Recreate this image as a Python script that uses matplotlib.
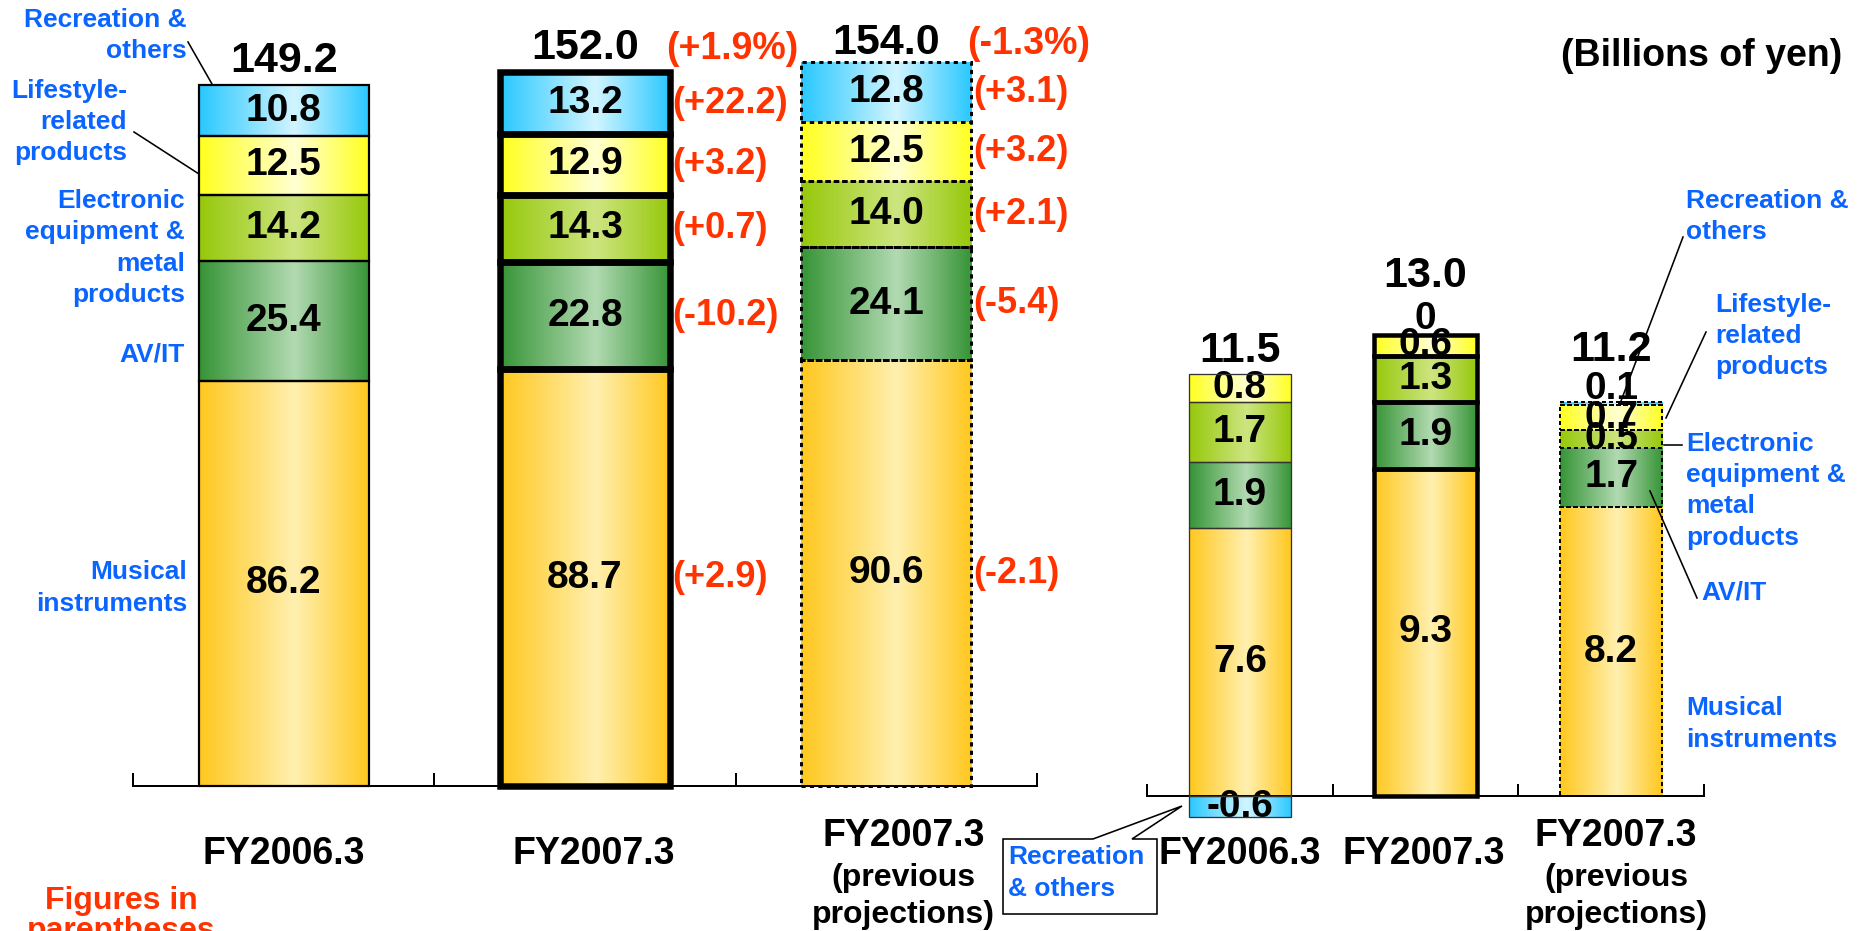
import numpy as np
import matplotlib
matplotlib.use("Agg")
import matplotlib.pyplot as plt
from matplotlib.colors import LinearSegmentedColormap
from matplotlib.patches import Polygon
from matplotlib.lines import Line2D
from matplotlib.transforms import Affine2D, blended_transform_factory

# ---------------- data ----------------
categories = ["FY2006.3", "FY2007.3", "FY2007.3\n(previous\nprojections)"]
segment_names = ["Musical instruments", "AV/IT", "Electronic equipment & metal products",
                 "Lifestyle-related products", "Recreation & others"]

# Net sales (billions of yen)
sales_musical = [86.2, 88.7, 90.6]
sales_avit = [25.4, 22.8, 24.1]
sales_electronic = [14.2, 14.3, 14.0]
sales_lifestyle = [12.5, 12.9, 12.5]
sales_recreation = [10.8, 13.2, 12.8]
sales_total = [149.2, 152.0, 154.0]
sales_total_change = [None, "+1.9%", "-1.3%"]
sales_change_musical = [None, "+2.9", "-2.1"]
sales_change_avit = [None, "-10.2", "-5.4"]
sales_change_electronic = [None, "+0.7", "+2.1"]
sales_change_lifestyle = [None, "+3.2", "+3.2"]
sales_change_recreation = [None, "+22.2", "+3.1"]

# Operating income (billions of yen)
income_musical = [7.6, 9.3, 8.2]
income_avit = [1.9, 1.9, 1.7]
income_electronic = [1.7, 1.3, 0.5]
income_lifestyle = [0.8, 0.6, 0.7]
income_recreation = [-0.6, 0.0, 0.1]
income_total = [11.5, 13.0, 11.2]

# ---------------- style ----------------
W, H, DPI = 1860, 931, 100
PX = 72.0 / DPI            # points per pixel
BLUE = "#0A64FF"
RED = "#FF3300"
plt.rcParams['font.family'] = ['Liberation Sans', 'DejaVu Sans']
plt.rcParams['font.weight'] = 'bold'

seg_colors = [("#FFC81E", "#FFF0B0"),   # musical
              ("#369436", "#B2DAB2"),   # AV/IT
              ("#96C80A", "#CDE580"),   # electronic
              ("#FFFF1E", "#FFFFD2"),   # lifestyle
              ("#28C8FF", "#D2F5FF")]   # recreation
cmaps = [LinearSegmentedColormap.from_list(f"g{k}", [(0, e), (0.56, l), (1, e)])
         for k, (e, l) in enumerate(seg_colors)]

fig = plt.figure(figsize=(W / DPI, H / DPI), dpi=DPI)
# pixel (x, y-from-top) -> display
T = Affine2D().scale(1.0 / W, -1.0 / H).translate(0, 1) + fig.transFigure


def draw_stacks(ax, series_list, width, styles):
    n = len(series_list[0])
    pos = np.zeros(n)
    neg = np.zeros(n)
    segs = []
    grad = np.linspace(0, 1, 256).reshape(1, -1)
    for s, vals in enumerate(series_list):
        for i, v in enumerate(vals):
            b = pos[i] if v >= 0 else neg[i]
            segs.append((i, s, b, v))
            if v >= 0:
                pos[i] += v
            else:
                neg[i] += v
            if v == 0:
                continue
            st = styles[i]
            rect = ax.bar(i, v, width, bottom=b, facecolor='none', edgecolor=st['ec'],
                          linewidth=st['lw'], linestyle=st['ls'], zorder=5)[0]
            rect.set_joinstyle('miter')
            im = ax.imshow(grad, cmap=cmaps[s], extent=[i - width / 2, i + width / 2, b, b + v],
                           aspect='auto', interpolation='bilinear', zorder=2)
            im.set_clip_path(rect)
    return segs, pos


def setup_axis(ax, ylo, yhi, tick_len_px):
    ax.set_xlim(-0.5, 2.5)
    ax.set_ylim(ylo, yhi)
    for sp in ['left', 'right', 'top']:
        ax.spines[sp].set_visible(False)
    ax.spines['bottom'].set_position(('data', 0))
    ax.spines['bottom'].set_linewidth(2 * PX)
    ax.set_xticks(np.arange(-0.5, 3.0, 1.0))
    ax.tick_params(axis='x', direction='in', length=tick_len_px * PX, width=2 * PX,
                   labelbottom=False)
    ax.set_yticks([])
    ax.patch.set_alpha(0)


def category_labels(ax, dx_px, ys_px):
    trans = blended_transform_factory(ax.transData, T)
    for i, cat in enumerate(categories):
        lines = cat.split("\n")
        ys = ys_px if len(lines) == 1 else [836, 878, 915]
        for k, line in enumerate(lines):
            ax.annotate(line, xy=(i, ys[k] if len(lines) > 1 else ys[0]), xycoords=trans,
                        xytext=(dx_px[i] * PX, 0), textcoords='offset points',
                        ha='center', va='center', fontsize=27 if k == 0 else 23,
                        annotation_clip=False)


SEG_FS = 28
TOT_FS = 31

# ================= left panel: net sales =================
L_SCALE = 4.70          # px per billion yen
L_BASE = 786            # baseline pixel row
ax1 = fig.add_axes([133 / W, 0, (1037 - 133) / W, 1])
left_series = [sales_musical, sales_avit, sales_electronic, sales_lifestyle, sales_recreation]
left_changes = [sales_change_musical, sales_change_avit, sales_change_electronic,
                sales_change_lifestyle, sales_change_recreation]
left_styles = [dict(ec='black', lw=2.2 * PX, ls='-'),
               dict(ec='black', lw=6.5 * PX, ls='-'),
               dict(ec='black', lw=3.0 * PX, ls=(0, (1.4, 1.4)))]
LW1 = 0.565
segs1, tops1 = draw_stacks(ax1, left_series, LW1, left_styles)
setup_axis(ax1, -(H - L_BASE) / L_SCALE, L_BASE / L_SCALE, 13)

for (i, s, b, v) in segs1:
    ax1.text(i, b + v / 2, f"{v:.1f}", ha='center', va='center', fontsize=SEG_FS, zorder=4)
    c = left_changes[s][i]
    if c is not None:
        ax1.annotate(f"({c})", xy=(i + LW1 / 2, b + v / 2), xytext=(2 * PX, 0),
                     textcoords='offset points', ha='left', va='center',
                     color=RED, fontsize=26, zorder=4)

total_off_left = [13, 13, 8]
for i, t in enumerate(sales_total):
    ax1.annotate(f"{t:.1f}", xy=(i, tops1[i]), xytext=(0, total_off_left[i] * PX),
                 textcoords='offset points', ha='center', va='baseline', fontsize=TOT_FS,
                 annotation_clip=False)
    if sales_total_change[i] is not None:
        ax1.annotate(f"({sales_total_change[i]})", xy=(i + LW1 / 2, tops1[i]),
                     xytext=(-4 * PX, total_off_left[i] * PX), textcoords='offset points',
                     ha='left', va='baseline', fontsize=27, color=RED, annotation_clip=False)

category_labels(ax1, [0, 9, 17], [854])

# ================= right panel: operating income =================
R_SCALE = 35.2
R_BASE = 796
ax2 = fig.add_axes([1147 / W, 0, (1704 - 1147) / W, 1])
right_series = [income_musical, income_avit, income_electronic, income_lifestyle, income_recreation]
right_styles = [dict(ec='#333333', lw=1.3 * PX, ls='-'),
                dict(ec='black', lw=4.5 * PX, ls='-'),
                dict(ec='black', lw=2.0 * PX, ls=(0, (2.0, 1.5)))]
LW2 = 0.55
segs2, tops2 = draw_stacks(ax2, right_series, LW2, right_styles)
setup_axis(ax2, -(H - R_BASE) / R_SCALE, R_BASE / R_SCALE, 12)

rec_off_right = [0, 5.5, 2.5]
for (i, s, b, v) in segs2:
    txt = "0" if v == 0 else f"{v:.1f}"
    if s == len(right_series) - 1 and v >= 0:
        ax2.annotate(txt, xy=(i, b + v), xytext=(0, rec_off_right[i] * PX),
                     textcoords='offset points', ha='center', va='baseline', fontsize=SEG_FS,
                     zorder=4, annotation_clip=False)
    else:
        ax2.text(i, b + v / 2, txt, ha='center', va='center', fontsize=SEG_FS, zorder=4)

total_off_right = [11.5, 47.5, 40.5]
for i, t in enumerate(income_total):
    ax2.annotate(f"{t:.1f}", xy=(i, tops2[i]), xytext=(0, total_off_right[i] * PX),
                 textcoords='offset points', ha='center', va='baseline', fontsize=TOT_FS,
                 annotation_clip=False)

category_labels(ax2, [0, -2, 5], [854])

# ================= annotations =================
def ftext(x, y, s, **kw):
    fig.text(x / W, 1 - y / H, s, **kw)


def fline(pts, lw=1.6):
    xs, ys = zip(*pts)
    fig.add_artist(Line2D(xs, ys, transform=T, color='black', lw=lw * PX))


blue_kw = dict(color=BLUE, fontsize=19, linespacing=1.38, va='center')
# left side labels (right-aligned)
ftext(187, 35.5, "Recreation &\nothers", ha='right', multialignment='right', **blue_kw)
ftext(127, 122, "Lifestyle-\nrelated\nproducts", ha='right', multialignment='right', **blue_kw)
ftext(185, 248, "Electronic\nequipment &\nmetal\nproducts", ha='right', multialignment='right', **blue_kw)
ftext(185, 355, "AV/IT", ha='right', **blue_kw)
ftext(187, 588, "Musical\ninstruments", ha='right', multialignment='right', **blue_kw)
fline([(188, 42), (212, 84)])
fline([(134, 132), (199, 174)])

# right side labels (left-aligned)
ftext(1686, 216.5, "Recreation &\nothers", ha='left', multialignment='left', **blue_kw)
ftext(1715, 336, "Lifestyle-\nrelated\nproducts", ha='left', multialignment='left', **blue_kw)
ftext(1686, 490.7, "Electronic\nequipment &\nmetal\nproducts", ha='left', multialignment='left', **blue_kw)
ftext(1701, 592, "AV/IT", ha='left', **blue_kw)
ftext(1686, 724, "Musical\ninstruments", ha='left', multialignment='left', **blue_kw)
fline([(1683, 237), (1621, 401)])
fline([(1706, 332), (1666, 418)])
fline([(1664, 445), (1682, 445)])
fline([(1650, 491), (1697, 598)])

# callout box for negative recreation segment
callout = Polygon([(1003, 839), (1093, 839), (1182, 806), (1132, 839), (1157, 839),
                   (1157, 914), (1003, 914)], closed=True, transform=T,
                  facecolor='white', edgecolor='black', lw=1.6 * PX, zorder=6)
fig.add_artist(callout)
ftext(1008, 873, "Recreation\n& others", ha='left', multialignment='left', zorder=7, **blue_kw)

# unit and footnote
ftext(1842, 56, "(Billions of yen)", ha='right', va='center', fontsize=27)
ftext(121, 901, "Figures in", ha='center', va='center', fontsize=23, color=RED)
ftext(121, 931, "parentheses", ha='center', va='center', fontsize=23, color=RED)

fig.savefig("out.png", dpi=DPI)
